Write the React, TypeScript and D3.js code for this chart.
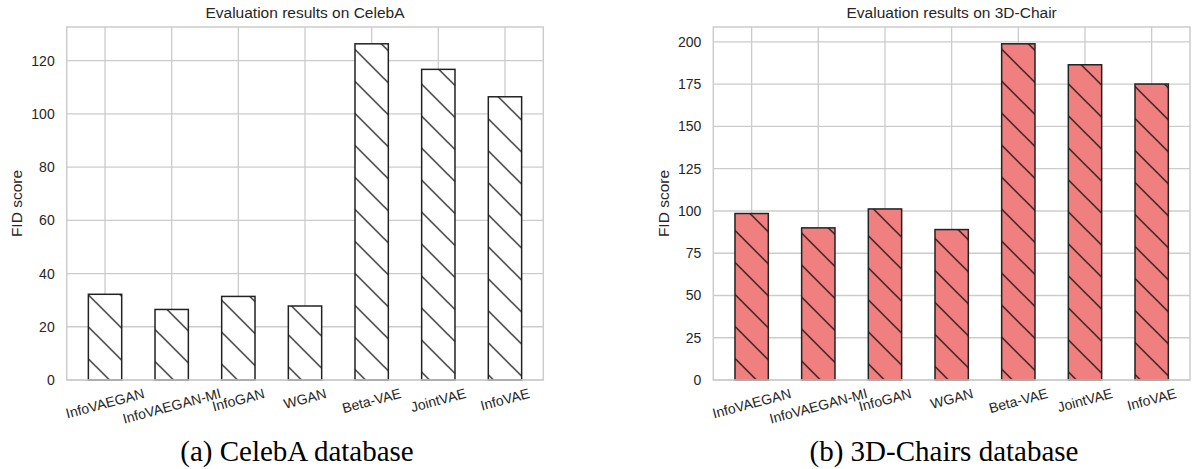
import React from "react";
import * as d3 from "d3";

// FID scores
const methods = ["InfoVAEGAN", "InfoVAEGAN-MI", "InfoGAN", "WGAN", "Beta-VAE", "JointVAE", "InfoVAE"];
const celebaFid = [32.2, 26.5, 31.4, 27.8, 126.3, 116.7, 106.4];
const chairsFid = [98.5, 90.0, 101.2, 89.0, 198.9, 186.5, 175.1];
const celebaTicks = [0, 20, 40, 60, 80, 100, 120];
const chairsTicks = [0, 25, 50, 75, 100, 125, 150, 175, 200];

const SANS = "'Liberation Sans', Arial, sans-serif";
const SERIF = "'Liberation Serif', 'Times New Roman', serif";
const GRID = "#cccccc";
const INK = "#262626";
const TOP = 27;
const BOTTOM = 380;
const TICK_SIZE = 14;
const ROT = 15;

const ctx = document.createElement("canvas").getContext("2d");
const textWidth = (t: string, size: number) => {
  if (!ctx) return t.length * size * 0.55;
  ctx.font = `${size}px 'Liberation Sans'`;
  return ctx.measureText(t).width;
};

type PanelProps = {
  id: string;
  left: number;
  right: number;
  title: string;
  values: number[];
  ticks: number[];
  fill: string;
  hatchShift: number;
  caption: string;
  captionX: number;
};

const Panel = ({ id, left, right, title, values, ticks, fill, hatchShift, caption, captionX }: PanelProps) => {
  const x = d3.scaleLinear().domain([-0.575, methods.length - 0.425]).range([left, right]);
  const y = d3
    .scaleLinear()
    .domain([0, (d3.max(values) as number) * 1.05])
    .range([BOTTOM, TOP]);
  const barW = x(0.5) - x(0);
  const rad = (ROT * Math.PI) / 180;

  return (
    <g>
      <defs>
        <pattern
          id={`hatch-${id}`}
          patternUnits="userSpaceOnUse"
          width={32}
          height={32}
          patternTransform={`translate(0, ${hatchShift})`}
        >
          <path d="M-8,-8 L40,40 M-8,24 L8,40 M24,-8 L40,8" stroke="#000" strokeWidth={1.2} fill="none" />
        </pattern>
      </defs>

      {/* grid */}
      {ticks.map((t) => (
        <line key={`h${t}`} x1={left} x2={right} y1={y(t)} y2={y(t)} stroke={GRID} strokeWidth={1.3} />
      ))}
      {methods.map((m, i) => (
        <line key={`v${m}`} x1={x(i)} x2={x(i)} y1={TOP} y2={BOTTOM} stroke={GRID} strokeWidth={1.3} />
      ))}

      {/* bars */}
      {values.map((v, i) => (
        <g key={methods[i]}>
          <rect x={x(i) - barW / 2} y={y(v)} width={barW} height={BOTTOM - y(v)} fill={fill} />
          <rect x={x(i) - barW / 2} y={y(v)} width={barW} height={BOTTOM - y(v)} fill={`url(#hatch-${id})`} />
          <rect
            x={x(i) - barW / 2}
            y={y(v)}
            width={barW}
            height={BOTTOM - y(v)}
            fill="none"
            stroke="#222"
            strokeWidth={1.5}
          />
        </g>
      ))}

      {/* frame */}
      <rect x={left} y={TOP} width={right - left} height={BOTTOM - TOP} fill="none" stroke={GRID} strokeWidth={1.5} />

      {/* y ticks */}
      {ticks.map((t) => (
        <text
          key={`yt${t}`}
          x={left - 12}
          y={y(t)}
          textAnchor="end"
          dominantBaseline="central"
          fontFamily={SANS}
          fontSize={TICK_SIZE}
          fill={INK}
        >
          {t}
        </text>
      ))}

      {/* x ticks, rotated like matplotlib rotation=15 */}
      {methods.map((m, i) => {
        const L = textWidth(m, TICK_SIZE);
        const h = TICK_SIZE * 1.15;
        const cy = BOTTOM + 5 + (L * Math.sin(rad) + h * Math.cos(rad)) / 2;
        return (
          <text
            key={`xt${m}`}
            transform={`translate(${x(i)},${cy}) rotate(${-ROT})`}
            textAnchor="middle"
            dominantBaseline="central"
            fontFamily={SANS}
            fontSize={TICK_SIZE}
            fill={INK}
          >
            {m}
          </text>
        );
      })}

      <text
        x={(left + right) / 2}
        y={18}
        textAnchor="middle"
        fontFamily={SANS}
        fontSize={15.5}
        fill={INK}
      >
        {title}
      </text>
      <text
        transform={`translate(${left - 50},${(TOP + BOTTOM) / 2}) rotate(-90)`}
        textAnchor="middle"
        dominantBaseline="central"
        fontFamily={SANS}
        fontSize={15.5}
        fill={INK}
      >
        FID score
      </text>
      <text x={captionX} y={461} textAnchor="middle" fontFamily={SERIF} fontSize={29} fill="#000">
        {caption}
      </text>
    </g>
  );
};

export default function App() {
  return (
    <svg
      width={1192}
      height={469}
      style={{ position: "absolute", left: 0, top: 0, background: "#fff" }}
    >
      <Panel
        id="celeba"
        left={66.7}
        right={543.3}
        title="Evaluation results on CelebA"
        values={celebaFid}
        ticks={celebaTicks}
        fill="#ffffff"
        hatchShift={14.5}
        caption="(a) CelebA database"
        captionX={297}
      />
      <Panel
        id="chairs"
        left={713.3}
        right={1190}
        title="Evaluation results on 3D-Chair"
        values={chairsFid}
        ticks={chairsTicks}
        fill="#f08080"
        hatchShift={7.5}
        caption="(b) 3D-Chairs database"
        captionX={944}
      />
    </svg>
  );
}
